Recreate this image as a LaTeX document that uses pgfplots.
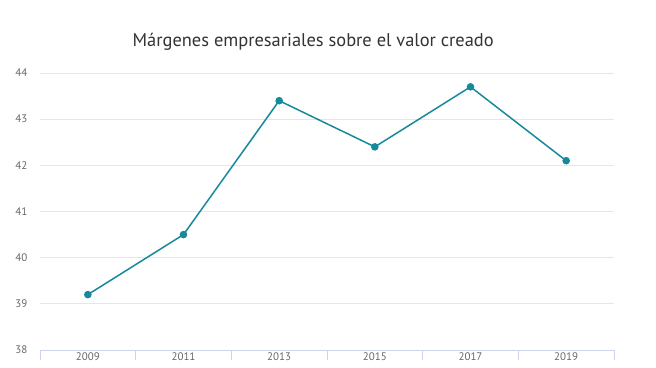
\documentclass[border=0pt]{standalone}
\usepackage{pgfplots}
\pgfplotsset{compat=1.18}
\usepackage{fontspec}
\setmainfont{PT Sans}
\definecolor{linec}{HTML}{16899A}
\definecolor{gridc}{HTML}{E6E6E6}
\definecolor{axisc}{HTML}{CCD6EB}
\definecolor{labc}{HTML}{666666}
\definecolor{titc}{HTML}{333333}
\begin{document}
\begin{tikzpicture}
\useasboundingbox (-40bp,-18bp) rectangle (616bp,350bp);
\begin{axis}[
  scale only axis, width=574bp, height=277bp,
  at={(0,0)}, anchor=south west,
  xmin=-0.5, xmax=5.5, ymin=38, ymax=44,
  ytick={38,39,40,41,42,43,44},
  xtick={0,1,2,3,4,5},
  xticklabels={2009,2011,2013,2015,2017,2019},
  minor xtick={-0.5,0.5,1.5,2.5,3.5,4.5,5.5},
  axis x line=bottom, axis y line=left,
  x axis line style={draw=axisc, line width=1bp, -},
  y axis line style={draw=none},
  ymajorgrids, major grid style={draw=gridc, line width=0.8bp},
  xtick style={draw=none}, ytick style={draw=none},
  minor x tick style={draw=axisc, line width=0.8bp},
  minor tick length=10bp, tick align=outside,
  /pgf/number format/assume math mode=true,
  tick label style={font=\fontsize{11}{13}\selectfont, text=labc},
  yticklabel style={xshift=-5bp},
  xticklabel style={yshift=2.5bp, inner sep=1bp},
  clip=false,
]
\addplot[color=linec, line width=1.5bp, mark=*, mark size=3bp, mark options={fill=linec, draw=linec}]
  coordinates {(0,39.2) (1,40.5) (2,43.4) (3,42.4) (4,43.7) (5,42.1)};
\node[font=\fontsize{18.5}{22}\selectfont, text=titc] at (axis description cs:0.476,1.112) {Márgenes empresariales sobre el valor creado};
\end{axis}
\end{tikzpicture}
\end{document}
